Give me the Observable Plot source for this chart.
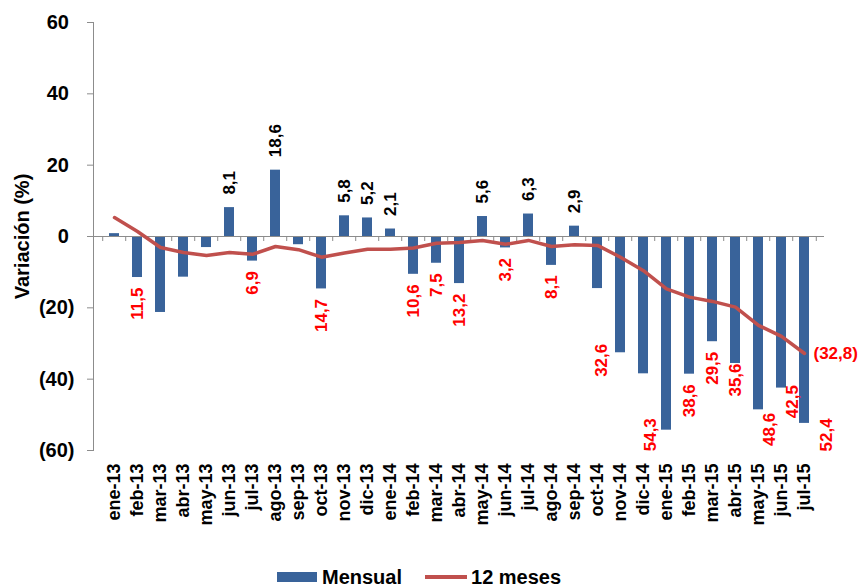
<!DOCTYPE html>
<html><head><meta charset="utf-8">
<script src="https://cdn.jsdelivr.net/npm/d3@7"></script>
<script src="https://cdn.jsdelivr.net/npm/@observablehq/plot@0.6"></script>
<style>
body{margin:0;background:#fff;font-family:"Liberation Sans",Arial,sans-serif;}
#wrap{position:relative;width:868px;height:586px;overflow:hidden;background:#fff;}
#legend{position:absolute;left:277px;top:567px;height:20px;display:flex;align-items:center;font-weight:bold;font-size:20px;color:#000;white-space:nowrap;}
#legend .sw{display:inline-block;width:40px;height:10px;background:#39639A;margin-right:5px;}
#legend .ln{display:inline-block;width:42px;height:4px;background:#C0504D;margin-left:23px;margin-right:4px;}
</style></head><body>
<div id="wrap"><div id="chart"></div>
<div id="legend"><span class="sw"></span><span>Mensual</span><span class="ln"></span><span>12 meses</span></div>
</div>
<script>
const months = ["ene-13","feb-13","mar-13","abr-13","may-13","jun-13","jul-13","ago-13","sep-13","oct-13","nov-13","dic-13","ene-14","feb-14","mar-14","abr-14","may-14","jun-14","jul-14","ago-14","sep-14","oct-14","nov-14","dic-14","ene-15","feb-15","mar-15","abr-15","may-15","jun-15","jul-15"];
const mensual = [0.8,-11.5,-21.3,-11.4,-3.1,8.1,-6.9,18.6,-2.3,-14.7,5.8,5.2,2.1,-10.6,-7.5,-13.2,5.6,-3.2,6.3,-8.1,2.9,-14.6,-32.6,-38.5,-54.3,-38.6,-29.5,-35.6,-48.6,-42.5,-52.4];
const doceMeses = [5.3,1.4,-3.1,-4.5,-5.3,-4.5,-5.0,-2.8,-3.7,-5.8,-4.6,-3.6,-3.6,-3.2,-1.9,-1.7,-1.1,-2.2,-1.1,-2.8,-2.3,-2.5,-5.8,-9.6,-14.7,-17.0,-18.2,-19.8,-24.9,-28.0,-32.8];
const labeledMonths = ["feb-13","jun-13","jul-13","ago-13","oct-13","nov-13","dic-13","ene-14","feb-14","mar-14","abr-14","may-14","jun-14","jul-14","ago-14","sep-14","nov-14","ene-15","feb-15","mar-15","abr-15","may-15","jun-15","jul-15"];
const yTicks = [-60,-40,-20,0,20,40,60];
const seriesNames = ["Mensual","12 meses"];
const yTitle = "Variación (%)";

const W = 868, H = 560, ML = 93, MR = 44, MT = 22, MB = 110;
const step = (W - ML - MR) / months.length;
const FONT = '"Liberation Sans", Arial, sans-serif';

// manual label placement tweaks (pixel nudges, like hand-moved labels in the original)
const labelNudge = {"nov-14": [-19, -9], "ene-15": [-16, -12], "abr-15": [0, 0], "may-15": [11, 3], "jun-15": [11, -3], "jul-15": [22, -5]};
const defaultNegDy = 10;

const data = months.map((m, i) => ({month: m, mensual: mensual[i], doce: doceMeses[i]}));
const labeled = data.filter(d => labeledMonths.includes(d.month));
const neg = labeled.filter(d => d.mensual < 0);
const pos = labeled.filter(d => d.mensual >= 0);
const fmt = v => Math.abs(v).toFixed(1).replace(".", ",");
const last = data[data.length - 1];

const negStyle = {x: "month", y: "mensual", text: d => fmt(d.mensual), rotate: -90, textAnchor: "end",
  fill: "#FF0000", fontSize: 17, fontWeight: "bold"};
const negPlain = neg.filter(d => !(d.month in labelNudge));
const negNudged = neg.filter(d => d.month in labelNudge);

const chart = Plot.plot({
  width: W, height: H,
  marginLeft: ML, marginRight: MR, marginTop: MT, marginBottom: MB,
  style: {fontFamily: FONT, background: "white", overflow: "visible"},
  x: {domain: months, paddingInner: 0.57, paddingOuter: 0.285},
  y: {domain: [-60, 60]},
  marks: [
    Plot.frame({anchor: "left", stroke: "#8c8c8c"}),
    Plot.axisY({ticks: yTicks, tickSize: 6, tickPadding: 13, stroke: "#8c8c8c", fill: "black",
      fontSize: 20, fontWeight: "bold", label: null,
      tickFormat: d => d < 0 ? `(${-d})` : `${d}\u2008`}),
    Plot.text([yTitle], {frameAnchor: "left", textAnchor: "middle", rotate: -90, dx: -71, fontSize: 20, fontWeight: "bold", fill: "black"}),
    Plot.barY(data, {x: "month", y: "mensual", fill: "#39639A"}),
    Plot.ruleY([0], {stroke: "#8c8c8c"}),
    Plot.ruleX(months, {x: d => d, y1: 0, y2: 0, insetBottom: -5, dx: -step / 2, stroke: "#8c8c8c"}),
    Plot.ruleX([months[months.length - 1]], {x: d => d, y1: 0, y2: 0, insetBottom: -5, dx: step / 2, stroke: "#8c8c8c"}),
    Plot.axisX({tickRotate: -90, tickSize: 0, tickPadding: 13, fontSize: 18, fontWeight: "bold", fill: "black", label: null}),
    Plot.line(data, {x: "month", y: "doce", stroke: "#C0504D", strokeWidth: 3.5}),
    Plot.text(negPlain, {...negStyle, dy: defaultNegDy}),
    ...negNudged.map(d => Plot.text([d], {...negStyle, dx: labelNudge[d.month][0], dy: labelNudge[d.month][1]})),
    Plot.text(pos, {x: "month", y: "mensual", text: d => fmt(d.mensual), rotate: -90, textAnchor: "start", dy: -13,
      fill: "black", fontSize: 17, fontWeight: "bold"}),
    Plot.text([last], {x: "month", y: "doce", text: d => `(${fmt(d.doce)})`, textAnchor: "start", dx: 9,
      fill: "#FF0000", fontSize: 17, fontWeight: "bold"})
  ]
});
document.getElementById("chart").appendChild(chart);
</script>
</body></html>
